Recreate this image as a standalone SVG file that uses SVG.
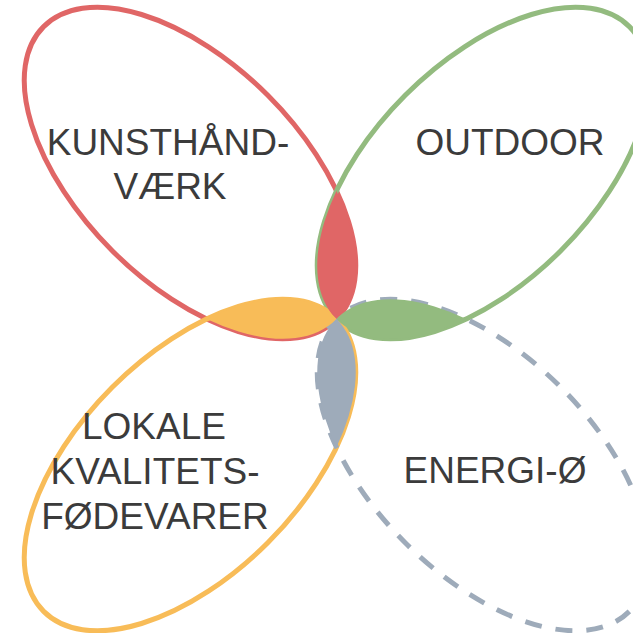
<svg xmlns="http://www.w3.org/2000/svg" width="633" height="633" viewBox="0 0 633 633">
  <style>
    .ring { fill: none; stroke-width: 5; }
    .lbl { font-family: "Liberation Sans", Arial, sans-serif; font-size: 37px; fill: #3b3b3b; text-anchor: middle; }
  </style>
  <defs>
    <clipPath id="cRed"><ellipse cx="190" cy="173" rx="207" ry="110" transform="rotate(45 190 173)"/></clipPath>
    <clipPath id="cGreen"><ellipse cx="483" cy="173" rx="207" ry="110" transform="rotate(-45 483 173)"/></clipPath>
    <clipPath id="cOrange"><ellipse cx="190" cy="465" rx="207" ry="110" transform="rotate(-45 190 465)"/></clipPath>
    <clipPath id="cGray"><ellipse cx="483" cy="465" rx="207" ry="110" transform="rotate(45 483 465)"/></clipPath>
  </defs>
  <rect width="633" height="633" fill="#ffffff"/>
  <g id="node-kunsthaandvaerk">
    <ellipse class="ring" stroke="#e06666" cx="190" cy="173" rx="207" ry="110" transform="rotate(45 190 173)"/>
    <text class="lbl" x="168" y="155">KUNSTHÅND-</text>
    <text class="lbl" x="170" y="199">VÆRK</text>
  </g>
  <g id="node-outdoor">
    <ellipse class="ring" stroke="#93bb7f" cx="483" cy="173" rx="207" ry="110" transform="rotate(-45 483 173)"/>
    <text class="lbl" x="510" y="155">OUTDOOR</text>
  </g>
  <g id="node-lokale">
    <ellipse class="ring" stroke="#f8bc58" cx="190" cy="465" rx="207" ry="110" transform="rotate(-45 190 465)"/>
    <text class="lbl" x="154" y="439">LOKALE</text>
    <text class="lbl" x="155" y="484">KVALITETS-</text>
    <text class="lbl" x="155" y="529">FØDEVARER</text>
  </g>
  <g id="node-energi">
    <ellipse class="ring" stroke="#9eabba" stroke-width="6" stroke-dasharray="17 14" cx="483" cy="465" rx="207" ry="110" transform="rotate(45 483 465)"/>
    <text class="lbl" x="495" y="483">ENERGI-Ø</text>
  </g>
  <g id="overlaps">
    <g clip-path="url(#cGreen)"><ellipse fill="#e06666" cx="190" cy="173" rx="207" ry="110" transform="rotate(45 190 173)"/></g>
    <g clip-path="url(#cGray)"><ellipse fill="#93bb7f" cx="483" cy="173" rx="207" ry="110" transform="rotate(-45 483 173)"/></g>
    <g clip-path="url(#cRed)"><ellipse fill="#f8bc58" cx="190" cy="465" rx="207" ry="110" transform="rotate(-45 190 465)"/></g>
    <g clip-path="url(#cOrange)"><ellipse fill="#9eabba" cx="483" cy="465" rx="207" ry="110" transform="rotate(45 483 465)"/></g>
  </g>
</svg>
